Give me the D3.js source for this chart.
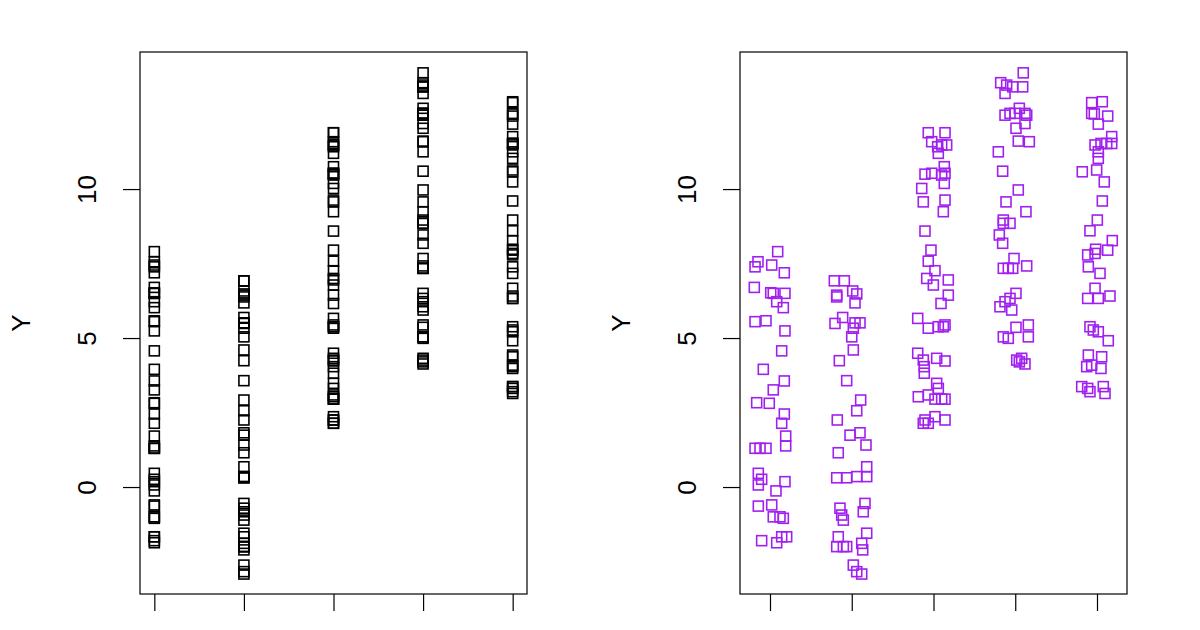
<!DOCTYPE html>
<html><head><meta charset="utf-8">
<script src="https://cdn.jsdelivr.net/npm/d3@7/dist/d3.min.js"></script>
<style>body{margin:0;background:#fff;}svg{display:block;font-family:"Liberation Sans",Arial,sans-serif;}</style>
</head><body>
<svg id="c" width="1200" height="630"></svg>
<script>
// Y values per group
const group1 = [7.90,7.39,7.56,7.45,7.19,6.70,6.52,6.50,6.50,6.22,6.02,5.55,5.58,5.24,4.57,3.95,3.56,3.26,2.83,2.81,2.45,2.14,1.71,1.38,1.30,1.30,1.30,0.46,0.26,0.07,0.18,-0.13,-0.64,-0.60,-1.00,-1.00,-1.05,-1.80,-1.87,-1.67,-1.67];
const group2 = [6.92,6.92,6.44,6.38,6.58,6.48,6.18,5.49,5.69,5.51,5.51,5.33,5.04,4.60,4.24,3.57,2.92,2.56,2.25,1.74,1.82,1.41,1.15,0.31,0.31,0.35,0.68,0.35,-0.71,-0.94,-1.11,-0.55,-0.83,-1.67,-2.00,-2.00,-2.00,-1.55,-1.89,-2.11,-2.62,-2.84,-2.92];
const group3 = [11.89,11.89,11.59,11.42,11.48,11.48,11.20,10.75,10.50,10.53,10.47,10.53,10.19,10.02,9.57,9.63,9.24,8.59,7.95,7.58,7.26,7.00,6.95,6.78,6.44,6.16,5.66,5.33,5.38,5.38,5.44,4.49,4.26,4.04,3.82,4.32,4.23,3.48,3.31,3.03,3.09,2.95,2.95,2.95,2.25,2.14,2.36,2.25,2.14];
const group4 = [13.90,13.57,13.49,13.43,13.43,13.21,12.71,12.48,12.54,12.54,12.54,12.48,12.20,12.04,11.61,11.59,11.25,10.60,9.97,9.57,9.24,8.96,8.85,8.85,8.46,8.18,7.67,7.34,7.34,7.34,7.42,6.50,6.33,6.22,6.05,5.94,5.36,5.44,5.04,5.04,4.99,4.26,4.32,4.13,4.20];
const group5 = [12.90,12.93,12.54,12.52,12.45,12.18,11.76,11.48,11.53,11.53,11.53,11.25,11.03,10.58,10.64,10.24,9.60,8.96,8.60,8.27,7.98,7.95,7.79,7.84,7.39,7.17,6.67,6.33,6.33,6.41,5.38,5.27,5.21,4.91,4.43,4.37,4.04,4.09,3.98,3.37,3.20,3.37,3.14,3.31];
// Horizontal jitter offsets for the right panel
const jitter1 = [0.094,-0.183,-0.147,0.021,0.175,-0.192,0.009,0.040,0.183,0.082,0.163,-0.183,-0.049,0.183,0.143,-0.082,0.175,0.040,-0.163,-0.009,0.175,0.143,0.192,0.192,-0.183,-0.122,-0.049,-0.143,-0.102,-0.143,0.183,0.073,-0.143,0.021,0.040,0.122,0.163,-0.102,0.082,0.143,0.204];
const jitter2 = [-0.213,-0.091,-0.184,-0.184,0.012,0.061,0.040,-0.205,-0.111,0.040,0.101,0.019,0.000,0.019,-0.152,-0.062,0.109,0.061,-0.177,-0.021,0.101,0.174,-0.165,-0.184,-0.062,0.061,0.183,0.183,-0.144,-0.123,-0.103,0.162,0.141,-0.165,-0.103,-0.184,-0.062,0.183,0.122,0.134,0.019,0.061,0.122];
const jitter3 = [-0.064,0.141,-0.022,0.051,0.100,0.161,0.059,0.132,-0.104,-0.022,0.100,0.141,0.132,-0.144,-0.125,0.141,0.120,-0.104,-0.031,-0.064,0.018,-0.083,0.181,-0.002,0.181,0.092,-0.193,-0.064,0.059,0.120,0.141,-0.193,-0.125,-0.113,-0.113,0.039,0.141,0.039,0.059,-0.186,-0.064,0.018,0.100,0.141,-0.104,-0.125,0.018,0.141,-0.064];
const jitter4 = [0.098,-0.178,-0.105,-0.031,0.091,-0.125,0.050,-0.125,-0.064,-0.003,0.119,0.140,0.119,0.009,0.037,0.172,-0.207,-0.154,0.037,-0.113,0.131,-0.146,-0.146,-0.064,-0.195,-0.154,-0.015,-0.146,-0.085,-0.031,0.140,0.009,-0.064,-0.125,-0.187,-0.043,0.009,0.160,0.160,-0.146,-0.085,0.018,0.079,0.119,0.050];
const jitter5 = [-0.065,0.065,-0.065,-0.033,0.131,0.016,0.180,-0.024,0.049,0.119,0.180,0.016,0.016,-0.180,-0.004,0.089,0.065,0.004,-0.086,0.187,-0.016,0.131,-0.114,-0.024,-0.106,0.037,-0.024,-0.114,0.016,0.159,-0.086,-0.045,0.016,0.138,-0.106,0.057,-0.126,-0.065,0.049,-0.187,-0.086,0.077,0.098,-0.114];
const groups = [group1, group2, group3, group4, group5];
const jitters = [jitter1, jitter2, jitter3, jitter4, jitter5];
const yTicks = [0, 5, 10];
const xTicks = [1, 2, 3, 4, 5];
const yLabel = "Y";

const svg = d3.select("#c");
const plotTop = 52, plotBottom = 594;
const y = d3.scaleLinear().domain([-3.59, 14.60]).range([plotBottom, plotTop]);

function panel(left, right, xDomain, color, useJitter) {
  const x = d3.scaleLinear().domain(xDomain).range([left, right]);
  const g = svg.append("g");
  const pts = [];
  groups.forEach((vals, gi) => vals.forEach((v, i) => {
    pts.push({x: xTicks[gi] + (useJitter ? jitters[gi][i] : 0), y: v});
  }));
  const s = 10;
  g.selectAll("rect.pt").data(pts).enter().append("rect")
    .attr("class", "pt")
    .attr("x", d => x(d.x) - s / 2).attr("y", d => y(d.y) - s / 2)
    .attr("width", s).attr("height", s)
    .attr("fill", "none").attr("stroke", color).attr("stroke-width", 1.6);
  const ya = g.append("g").attr("transform", `translate(${left},0)`)
    .call(d3.axisLeft(y).tickValues(yTicks).tickSize(17).tickPadding(0).tickFormat(d3.format("d")));
  ya.select(".domain").remove();
  ya.selectAll(".tick line").attr("stroke", "#000").attr("stroke-width", 1.2);
  ya.selectAll(".tick text").attr("font-size", 26).attr("fill", "#000")
    .attr("text-anchor", "middle").attr("x", 0).attr("dy", 0)
    .attr("transform", "translate(-53,0) rotate(-90)")
    .attr("dominant-baseline", "central");
  const xa = g.append("g").attr("transform", `translate(0,${plotBottom})`)
    .call(d3.axisBottom(x).tickValues(xTicks).tickSize(17).tickFormat(""));
  xa.select(".domain").remove();
  xa.selectAll(".tick line").attr("stroke", "#000").attr("stroke-width", 1.2);
  g.append("rect").attr("x", left).attr("y", plotTop).attr("width", right - left).attr("height", plotBottom - plotTop)
    .attr("fill", "none").attr("stroke", "#000").attr("stroke-width", 1.2);
  g.append("text").attr("transform", `translate(${left - 119},${(plotTop + plotBottom) / 2}) rotate(-90)`)
    .attr("text-anchor", "middle").attr("dominant-baseline", "central")
    .attr("font-size", 26).attr("fill", "#000").text(yLabel);
}

panel(140, 527, [0.84, 5.16], "#000", false);
panel(740, 1127, [0.633, 5.367], "#A020F0", true);
</script>
</body></html>
